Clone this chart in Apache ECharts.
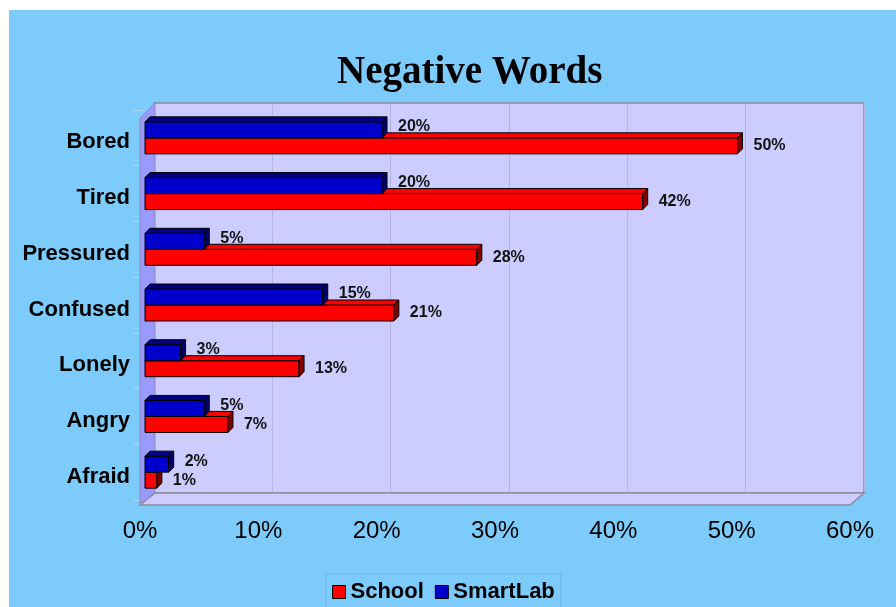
<!DOCTYPE html>
<html lang="en">

<head>
    <meta charset="UTF-8">
    <title>Negative Words</title>
    <script src="https://cdn.jsdelivr.net/npm/echarts@6/dist/echarts.min.js"></script>
    <style>
        body {
            margin: 0;
            background: #fff;
        }

        #chart {
            width: 896px;
            height: 607px;
        }
    </style>
</head>

<body>
    <div id="chart"></div>

    <script>
        var categories = ['Bored', 'Tired', 'Pressured', 'Confused', 'Lonely', 'Angry', 'Afraid'];
        var school = [50, 42, 28, 21, 13, 7, 1];
        var smartLab = [20, 20, 5, 15, 3, 5, 2];
        var xTicks = [0, 10, 20, 30, 40, 50, 60];

        // depth of the fake 3d boxes
        var DX = 5, DY = -5, BAR_H = 16;

        function boxRenderer(front, top, side, above, labelShift) {
            return function (params, api) {
                var cat = api.value(1);
                var start = api.coord([0, cat]);
                var end = api.coord([api.value(0), cat]);
                var y0 = above ? start[1] - BAR_H : start[1];
                var x0 = start[0], x1 = end[0];
                var edge = { stroke: '#000', lineWidth: 1 };
                return {
                    type: 'group',
                    children: [{
                        type: 'rect',
                        shape: { x: x0, y: y0, width: x1 - x0, height: BAR_H },
                        style: Object.assign({ fill: front }, edge)
                    }, {
                        type: 'polygon',
                        shape: { points: [[x0, y0], [x1, y0], [x1 + DX, y0 + DY], [x0 + DX, y0 + DY]] },
                        style: Object.assign({ fill: top }, edge)
                    }, {
                        type: 'polygon',
                        shape: { points: [[x1, y0], [x1 + DX, y0 + DY], [x1 + DX, y0 + BAR_H + DY], [x1, y0 + BAR_H]] },
                        style: Object.assign({ fill: side }, edge)
                    }, {
                        type: 'text',
                        style: {
                            x: x1 + 16,
                            y: y0 + BAR_H / 2 + labelShift,
                            text: api.value(0) + '%',
                            fill: '#111',
                            font: 'bold 16px Arial, "Liberation Sans", sans-serif',
                            verticalAlign: 'middle'
                        }
                    }]
                };
            };
        }

        function toData(arr) {
            return arr.map(function (v, i) { return [v, i]; });
        }

        var chart = echarts.init(document.getElementById('chart'));
        chart.setOption({
            backgroundColor: '#fff',
            animation: false,
            title: {
                text: 'Negative Words',
                left: 332,
                top: 48,
                textStyle: {
                    fontFamily: '"Liberation Serif", "DejaVu Serif", serif',
                    fontWeight: 'bold',
                    fontSize: 39,
                    color: '#000'
                }
            },
            legend: {
                left: 326,
                top: 574,
                padding: [7, 6, 7, 6],
                itemGap: 11,
                itemWidth: 13,
                itemHeight: 13,
                borderColor: 'rgba(80,150,200,0.35)',
                borderWidth: 1,
                icon: 'rect',
                itemStyle: { borderColor: '#000', borderWidth: 1 },
                textStyle: {
                    fontFamily: 'Arial, "Liberation Sans", sans-serif',
                    fontWeight: 'bold',
                    fontSize: 22,
                    color: '#000'
                },
                data: ['School', 'SmartLab']
            },
            graphic: [{
                type: 'rect',
                z: -100,
                shape: { x: 9, y: 10, width: 887, height: 597 },
                style: { fill: '#7dcbfa' }
            }, {
                // left wall
                type: 'polygon',
                z: 1,
                shape: { points: [[140, 118], [155, 103], [155, 493], [140, 505]] },
                style: { fill: '#9999ff', stroke: '#8c8ca8', lineWidth: 1 }
            }, {
                // floor
                type: 'polygon',
                z: 1,
                shape: { points: [[155, 493], [864, 493], [850, 505], [140, 505]] },
                style: { fill: '#ccccff', stroke: '#8c8c9c', lineWidth: 1.5 }
            }],
            grid: [{
                // back wall
                left: 154, width: 710, top: 103, height: 390,
                show: true,
                backgroundColor: '#ccccff',
                borderColor: '#8c8c9c',
                borderWidth: 1.5
            }, {
                // front edge, carries tick labels
                left: 140, width: 710, top: 118, height: 387
            }, {
                // bars
                left: 145, width: 711, top: 110, height: 390
            }],
            xAxis: [{
                gridIndex: 0, type: 'value', min: 0, max: 60, interval: 10,
                axisLabel: { show: false }, axisLine: { show: false }, axisTick: { show: false },
                splitLine: { lineStyle: { color: '#b4b4dc', width: 1 } }
            }, {
                gridIndex: 1, type: 'value', min: xTicks[0], max: xTicks[xTicks.length - 1], interval: 10,
                axisLine: { show: false }, axisTick: { show: false }, splitLine: { show: false },
                axisLabel: {
                    margin: 14,
                    formatter: '{value}%',
                    fontFamily: 'Arial, "Liberation Sans", sans-serif',
                    fontSize: 24,
                    color: '#000'
                }
            }, {
                gridIndex: 2, type: 'value', min: 0, max: 60,
                show: false
            }],
            yAxis: [{
                gridIndex: 0, type: 'category', data: categories, show: false
            }, {
                gridIndex: 1, type: 'category', data: categories, show: false
            }, {
                gridIndex: 2, type: 'category', data: categories, inverse: true,
                axisLine: { show: false },
                axisTick: { show: true, length: 12, lineStyle: { color: '#a6d6f4' } },
                axisLabel: {
                    margin: 15,
                    formatter: function (v) { return '{c|' + v + '}'; },
                    rich: {
                        c: {
                            padding: [9, 0, 0, 0],
                            fontFamily: 'Arial, "Liberation Sans", sans-serif',
                            fontWeight: 'bold',
                            fontSize: 22,
                            color: '#000'
                        }
                    }
                }
            }],
            series: [{
                name: 'School',
                type: 'custom',
                xAxisIndex: 2,
                yAxisIndex: 2,
                z: 3,
                itemStyle: { color: '#ff0000' },
                encode: { x: 0, y: 1 },
                renderItem: boxRenderer('#ff0000', '#ff0000', '#800000', false, 0),
                data: toData(school)
            }, {
                name: 'SmartLab',
                type: 'custom',
                xAxisIndex: 2,
                yAxisIndex: 2,
                z: 4,
                itemStyle: { color: '#0000cc' },
                encode: { x: 0, y: 1 },
                renderItem: boxRenderer('#0000cc', '#000080', '#000066', true, -3),
                data: toData(smartLab)
            }]
        });
    </script>
</body>

</html>
